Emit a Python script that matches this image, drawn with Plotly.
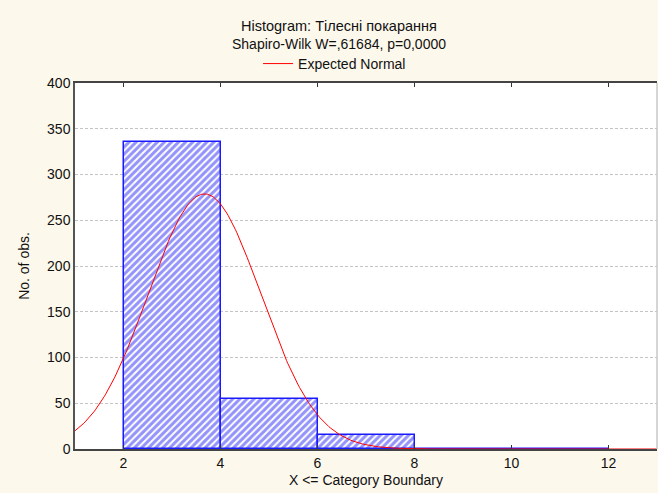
import numpy as np
import plotly.graph_objects as go

# Data
bin_edges = [2, 4, 6, 8, 10, 12]
counts = [336, 55, 15, 0, 0]
norm_mean = 3.67
norm_sd = 1.162
bin_width = 2
x_ticks = [2, 4, 6, 8, 10, 12]
y_ticks = [0, 50, 100, 150, 200, 250, 300, 350, 400]

title1 = "Histogram: Тілесні покарання"
title2 = "Shapiro-Wilk W=,61684, p=0,0000"

centers = [(a + b) / 2 for a, b in zip(bin_edges[:-1], bin_edges[1:])]
n_total = sum(counts)

xs = np.linspace(1, 13, 400)
ys = n_total * bin_width / (norm_sd * np.sqrt(2 * np.pi)) * np.exp(-0.5 * ((xs - norm_mean) / norm_sd) ** 2)

FONT = "Liberation Sans, Arial, sans-serif"
BG = "#fdf8ec"

fig = go.Figure()
fig.add_trace(go.Bar(
    x=centers, y=counts, width=bin_width,
    marker=dict(
        color="white",
        line=dict(color="#1a1aff", width=1.5),
        pattern=dict(shape="/", fgcolor="#2828f5", bgcolor="white", size=5, solidity=0.6),
    ),
    showlegend=False,
))
fig.add_trace(go.Scatter(
    x=xs, y=ys, mode="lines", line=dict(color="#ff0000", width=1),
    name="Expected Normal", showlegend=True,
))

fig.update_layout(
    width=658, height=493,
    margin=dict(l=75, r=1, t=83, b=44),
    paper_bgcolor=BG,
    plot_bgcolor="white",
    font=dict(family=FONT, size=14, color="#111"),
    bargap=0,
    legend=dict(
        orientation="h", x=0.446, xanchor="center", y=1.052, yanchor="middle",
        bgcolor="rgba(0,0,0,0)", font=dict(size=14), itemwidth=30,
    ),
    annotations=[
        dict(text=title1, x=0.4536, y=1.157, xref="paper", yref="paper",
             showarrow=False, font=dict(size=14.5), xanchor="center", yanchor="middle"),
        dict(text=title2, x=0.4536, y=1.1066, xref="paper", yref="paper",
             showarrow=False, font=dict(size=14), xanchor="center", yanchor="middle"),
    ],
    shapes=[
        dict(type="line", xref="paper", yref="paper", x0=1, x1=1, y0=0, y1=1,
             line=dict(color="#c8c8c8", width=1.5)),
    ],
)
fig.update_xaxes(
    range=[1, 13], tickvals=x_ticks, ticks="inside", ticklen=4, tickcolor="#333",
    showline=True, linecolor="#444", linewidth=1.5, mirror="ticks",
    showgrid=False, zeroline=False,
    title=dict(text="X <= Category Boundary", font=dict(size=14), standoff=6),
    tickfont=dict(size=14),
)
fig.update_yaxes(
    range=[0, 400], tickvals=y_ticks, ticks="", showline=True, linecolor="#555", linewidth=1.5,
    showgrid=True, gridcolor="#c4c4c4", griddash="3px,2px", gridwidth=1, zeroline=False,
    title=dict(text="No. of obs.", font=dict(size=14), standoff=14),
    tickfont=dict(size=14),
)

fig.write_html(
    "out.html",
    config={"displayModeBar": False},
    post_script="document.body.style.margin='0';document.body.style.background='" + BG + "';",
)
